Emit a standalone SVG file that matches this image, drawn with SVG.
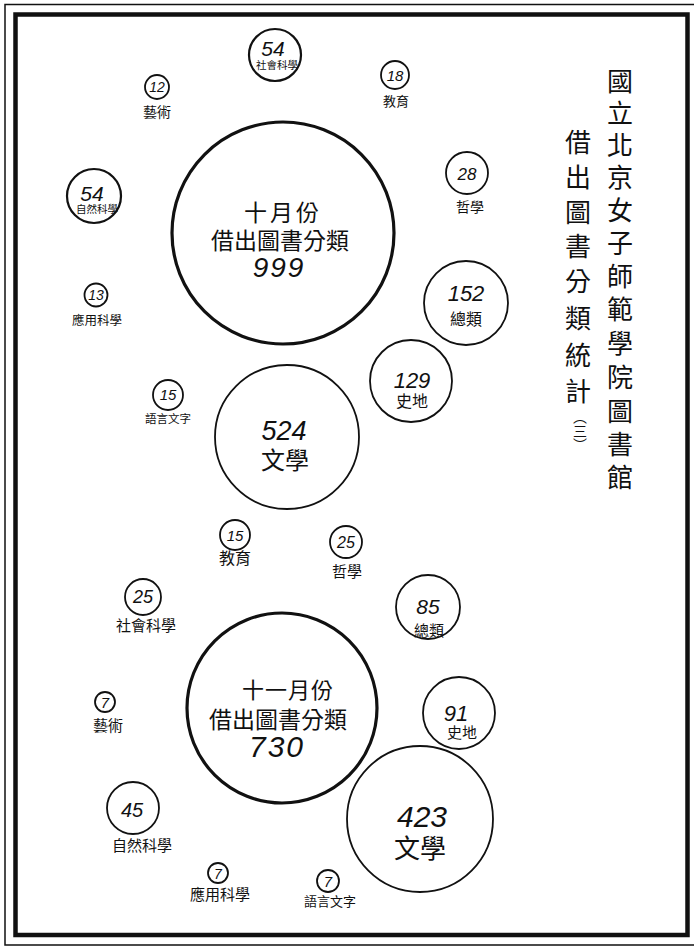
<svg xmlns="http://www.w3.org/2000/svg" width="695" height="948" viewBox="0 0 695 948">
<style>
.c{fill:none;stroke:#111;stroke-width:1.8}
.cb{fill:none;stroke:#111;stroke-width:3.2}
.cm{fill:none;stroke:#111;stroke-width:2.2}
.n{font-family:"Liberation Sans",sans-serif;font-style:italic;fill:#111;text-anchor:middle}
.z{font-family:"Noto Sans CJK TC","Noto Sans CJK SC",sans-serif;fill:#111;text-anchor:middle}
.t{font-family:"Noto Sans CJK TC","Noto Sans CJK SC",sans-serif;fill:#111;text-anchor:middle;font-size:26px}
</style>
<rect width="695" height="948" fill="#fff"/>
<g id="frame">
<path d="M694,4.5 H5 V945 H694" fill="none" stroke="#111" stroke-width="1.5"/>
<rect x="15.5" y="14.5" width="672" height="920.5" fill="none" stroke="#111" stroke-width="4.5"/>
</g>
<g id="title">
<text class="t"><tspan x="620" y="91">國</tspan><tspan x="620" y="123">立</tspan><tspan x="620" y="155">北</tspan><tspan x="620" y="187">京</tspan><tspan x="620" y="220">女</tspan><tspan x="620" y="253">子</tspan><tspan x="620" y="286">師</tspan><tspan x="620" y="319">範</tspan><tspan x="620" y="353">學</tspan><tspan x="620" y="387">院</tspan><tspan x="620" y="421">圖</tspan><tspan x="620" y="454">書</tspan><tspan x="620" y="487">館</tspan></text>
<text class="t"><tspan x="578" y="152">借</tspan><tspan x="578" y="187">出</tspan><tspan x="578" y="222">圖</tspan><tspan x="578" y="256">書</tspan><tspan x="578" y="291">分</tspan><tspan x="578" y="328">類</tspan><tspan x="578" y="365">統</tspan><tspan x="578" y="401">計</tspan></text>
<text class="z" x="580" y="410" font-size="14" writing-mode="vertical-rl" style="text-anchor:start">（三）</text>
</g>
<g id="oct-total">
<circle class="cb" cx="283" cy="233" r="111"/>
<text class="z" x="283" y="221" font-size="23" letter-spacing="3">十月份</text>
<text class="z" x="280" y="249" font-size="23">借出圖書分類</text>
<text class="n" x="279" y="277" font-size="28" letter-spacing="2">999</text>
</g>
<g id="oct-social">
<circle class="cm" cx="275" cy="55" r="26"/>
<text class="n" x="273" y="56" font-size="21">54</text>
<text class="z" x="277" y="69" font-size="10.5">社會科學</text>
</g>
<g id="oct-art">
<circle class="c" cx="157" cy="87" r="12"/>
<text class="n" x="157" y="92" font-size="14">12</text>
<text class="z" x="157" y="117" font-size="14">藝術</text>
</g>
<g id="oct-natural">
<circle class="cm" cx="94" cy="196" r="27"/>
<text class="n" x="92" y="201" font-size="21">54</text>
<text class="z" x="97" y="213" font-size="10.5">自然科學</text>
</g>
<g id="oct-applied">
<circle class="c" cx="96" cy="295" r="11.5"/>
<text class="n" x="96" y="300" font-size="14">13</text>
<text class="z" x="97" y="325" font-size="12.5">應用科學</text>
</g>
<g id="oct-edu">
<circle class="c" cx="395" cy="75" r="14"/>
<text class="n" x="395" y="81" font-size="15">18</text>
<text class="z" x="396" y="106" font-size="13">教育</text>
</g>
<g id="oct-phil">
<circle class="c" cx="467" cy="173" r="21"/>
<text class="n" x="467" y="180" font-size="17">28</text>
<text class="z" x="470" y="212" font-size="14">哲學</text>
</g>
<g id="oct-general">
<circle class="c" cx="466" cy="303" r="42"/>
<text class="n" x="466" y="301" font-size="22">152</text>
<text class="z" x="466" y="325" font-size="16">總類</text>
</g>
<g id="oct-hist">
<circle class="c" cx="411" cy="381" r="41"/>
<text class="n" x="412" y="388" font-size="22">129</text>
<text class="z" x="412" y="407" font-size="16">史地</text>
</g>
<g id="oct-lit">
<circle class="c" cx="287" cy="437" r="72"/>
<text class="n" x="284" y="440" font-size="27">524</text>
<text class="z" x="285" y="469" font-size="24">文學</text>
</g>
<g id="oct-lang">
<circle class="c" cx="168" cy="395" r="15"/>
<text class="n" x="168" y="400" font-size="15">15</text>
<text class="z" x="168" y="423" font-size="11.5">語言文字</text>
</g>
<g id="nov-total">
<circle class="cb" cx="282" cy="708" r="95"/>
<text class="z" x="288" y="698" font-size="22" letter-spacing="1">十一月份</text>
<text class="z" x="278" y="728" font-size="23">借出圖書分類</text>
<text class="n" x="277" y="757" font-size="30" letter-spacing="2">730</text>
</g>
<g id="nov-edu">
<circle class="c" cx="235" cy="535" r="15"/>
<text class="n" x="235" y="541" font-size="15">15</text>
<text class="z" x="235" y="564" font-size="16">教育</text>
</g>
<g id="nov-phil">
<circle class="c" cx="346" cy="542" r="16"/>
<text class="n" x="346" y="548" font-size="16">25</text>
<text class="z" x="347" y="577" font-size="15">哲學</text>
</g>
<g id="nov-social">
<circle class="c" cx="143" cy="597" r="18"/>
<text class="n" x="143" y="603" font-size="18">25</text>
<text class="z" x="146" y="631" font-size="15">社會科學</text>
</g>
<g id="nov-general">
<circle class="c" cx="428" cy="607" r="32"/>
<text class="n" x="428" y="614" font-size="21">85</text>
<text class="z" x="429" y="636" font-size="15">總類</text>
</g>
<g id="nov-art">
<circle class="c" cx="105" cy="702" r="10"/>
<text class="n" x="105" y="708" font-size="15">7</text>
<text class="z" x="108" y="731" font-size="15">藝術</text>
</g>
<g id="nov-hist">
<circle class="c" cx="459" cy="713" r="36"/>
<text class="n" x="456" y="721" font-size="22">91</text>
<text class="z" x="462" y="738" font-size="15">史地</text>
</g>
<g id="nov-lit">
<circle class="c" cx="420" cy="819" r="73"/>
<text class="n" x="422" y="827" font-size="30">423</text>
<text class="z" x="420" y="858" font-size="26">文學</text>
</g>
<g id="nov-natural">
<circle class="c" cx="133" cy="808" r="26"/>
<text class="n" x="132" y="817" font-size="20">45</text>
<text class="z" x="142" y="851" font-size="15">自然科學</text>
</g>
<g id="nov-applied">
<circle class="c" cx="218" cy="873" r="10"/>
<text class="n" x="218" y="879" font-size="14">7</text>
<text class="z" x="220" y="900" font-size="15">應用科學</text>
</g>
<g id="nov-lang">
<circle class="c" cx="328" cy="881" r="11"/>
<text class="n" x="328" y="887" font-size="15">7</text>
<text class="z" x="330" y="906" font-size="13">語言文字</text>
</g>
</svg>
